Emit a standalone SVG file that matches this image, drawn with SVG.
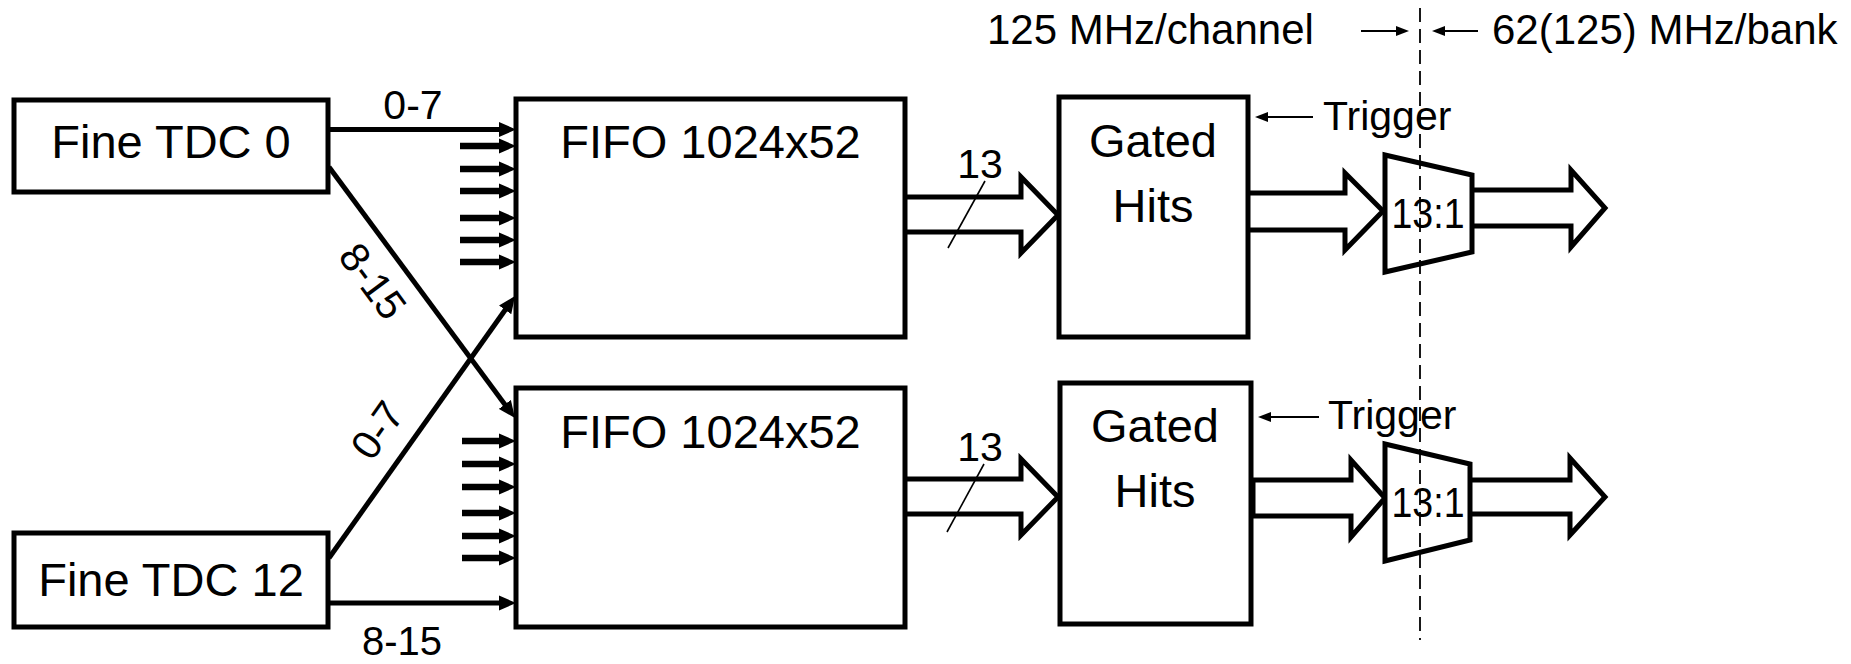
<svg xmlns="http://www.w3.org/2000/svg" width="1851" height="664" viewBox="0 0 1851 664">
<defs>
<style>
text{font-family:"Liberation Sans",Arial,sans-serif;fill:#000}
.box{fill:#fff;stroke:#000;stroke-width:5}
.lbl{font-size:47px;text-anchor:middle}
.sm{font-size:41px}
.top{font-size:42px}
.wire{stroke:#000;stroke-width:5;fill:none}
.stub{stroke:#000;stroke-width:6.5;fill:none}
.thin{stroke:#000;stroke-width:2;fill:none}
.hol{fill:#fff;stroke:#000;stroke-width:5;stroke-linejoin:miter}
.slash{stroke:#000;stroke-width:1.6}
.dash{stroke:#000;stroke-width:1.8;stroke-dasharray:14 7;fill:none}
</style>
<marker id="ah" markerUnits="userSpaceOnUse" markerWidth="17" markerHeight="16" refX="7" refY="8" orient="auto">
<path d="M0,0.5 L17,8 L0,15.5 z" fill="#000"/>
</marker>
<marker id="as" markerUnits="userSpaceOnUse" markerWidth="13" markerHeight="11" refX="6" refY="5.5" orient="auto">
<path d="M0,0.5 L13,5.5 L0,10.5 z" fill="#000"/>
</marker>
</defs>
<rect width="1851" height="664" fill="#fff"/>

<g id="connectors">
<line class="wire" x1="328" y1="129.5" x2="506" y2="129.5" marker-end="url(#ah)"/>
<line class="stub" x1="460" y1="146" x2="506" y2="146" marker-end="url(#ah)"/>
<line class="stub" x1="460" y1="169" x2="506" y2="169" marker-end="url(#ah)"/>
<line class="stub" x1="460" y1="191" x2="506" y2="191" marker-end="url(#ah)"/>
<line class="stub" x1="460" y1="218" x2="506" y2="218" marker-end="url(#ah)"/>
<line class="stub" x1="460" y1="240" x2="506" y2="240" marker-end="url(#ah)"/>
<line class="stub" x1="460" y1="262" x2="506" y2="262" marker-end="url(#ah)"/>
<line class="wire" x1="329" y1="167" x2="509" y2="410" marker-end="url(#ah)"/>
<line class="wire" x1="329" y1="558" x2="509.2" y2="304.2" marker-end="url(#ah)"/>
<line class="stub" x1="462" y1="441" x2="506" y2="441" marker-end="url(#ah)"/>
<line class="stub" x1="462" y1="464" x2="506" y2="464" marker-end="url(#ah)"/>
<line class="stub" x1="462" y1="487" x2="506" y2="487" marker-end="url(#ah)"/>
<line class="stub" x1="462" y1="513" x2="506" y2="513" marker-end="url(#ah)"/>
<line class="stub" x1="462" y1="536" x2="506" y2="536" marker-end="url(#ah)"/>
<line class="stub" x1="462" y1="558" x2="506" y2="558" marker-end="url(#ah)"/>
<line class="wire" x1="328" y1="603" x2="506" y2="603" marker-end="url(#ah)"/>
<text class="sm" x="413" y="119" text-anchor="middle">0-7</text>
<text x="402" y="655" font-size="40" text-anchor="middle">8-15</text>
<text class="sm" text-anchor="middle" transform="translate(373,281) rotate(53.6)" y="14.5">8-15</text>
<text class="sm" text-anchor="middle" transform="translate(377,430) rotate(-54.7)" y="14.5">0-7</text>

<path class="hol" d="M905,197 H1021 V177 L1058,215 L1021,253 V232 H905"/>
<path class="hol" d="M902,479 H1021 V459 L1058,497 L1021,535 V514 H902 Z"/>
<text class="sm" x="980" y="178" text-anchor="middle">13</text>
<text class="sm" x="980" y="461" text-anchor="middle">13</text>
<line class="slash" x1="985" y1="181" x2="948" y2="248"/>
<line class="slash" x1="984" y1="464" x2="947" y2="532"/>

<path class="hol" d="M1248,193 H1345 V173 L1383,211 L1345,250 V230 H1248"/>
<path class="hol" d="M1253,480 H1351 V460 L1385,498 L1351,537 V516 H1253 Z"/>

<path class="hol" d="M1472,190 H1571 V170 L1605,208 L1571,247 V226 H1472"/>
<path class="hol" d="M1470,480 H1570 V458 L1605,497 L1570,535 V514 H1470"/>

<line class="thin" x1="1313" y1="117" x2="1262" y2="117" marker-end="url(#as)"/>
<line class="thin" x1="1319" y1="417" x2="1265" y2="417" marker-end="url(#as)"/>
<text class="sm" x="1323" y="130">Trigger</text>
<text class="sm" x="1328" y="429">Trigger</text>

<line class="thin" x1="1361" y1="31" x2="1402" y2="31" marker-end="url(#as)"/>
<line class="thin" x1="1478" y1="31" x2="1439" y2="31" marker-end="url(#as)"/>
</g>

<g id="fine-tdc-0">
<rect class="box" x="14" y="100" width="314" height="92"/>
<text class="lbl" x="171" y="158">Fine TDC 0</text>
</g>
<g id="fine-tdc-12">
<rect class="box" x="14" y="533" width="314" height="94"/>
<text class="lbl" x="171" y="596">Fine TDC 12</text>
</g>
<g id="fifo-1">
<rect class="box" x="516" y="99" width="389" height="238"/>
<text class="lbl" x="710.5" y="158">FIFO 1024x52</text>
</g>
<g id="fifo-2">
<rect class="box" x="516" y="388" width="389" height="239"/>
<text class="lbl" x="710.5" y="448">FIFO 1024x52</text>
</g>
<g id="gated-hits-1">
<rect class="box" x="1059" y="97" width="189" height="240"/>
<text class="lbl" x="1153" y="157">Gated</text>
<text class="lbl" x="1153" y="222">Hits</text>
</g>
<g id="gated-hits-2">
<rect class="box" x="1060" y="383" width="191" height="241"/>
<text class="lbl" x="1155" y="442">Gated</text>
<text class="lbl" x="1155" y="507">Hits</text>
</g>
<g id="mux-1">
<polygon class="box" points="1385,155 1472,175 1472,252 1385,272"/>
<text x="1428" y="228" font-size="43" text-anchor="middle" textLength="73" lengthAdjust="spacingAndGlyphs">13:1</text>
</g>
<g id="mux-2">
<polygon class="box" points="1385,444 1470,464 1470,540 1385,561"/>
<text x="1428" y="517" font-size="43" text-anchor="middle" textLength="73" lengthAdjust="spacingAndGlyphs">13:1</text>
</g>

<g id="clock-domains">
<text class="top" x="987" y="44">125 MHz/channel</text>
<text class="top" x="1492" y="44">62(125) MHz/bank</text>
<line class="dash" x1="1420" y1="8" x2="1420" y2="640"/>
</g>
</svg>
